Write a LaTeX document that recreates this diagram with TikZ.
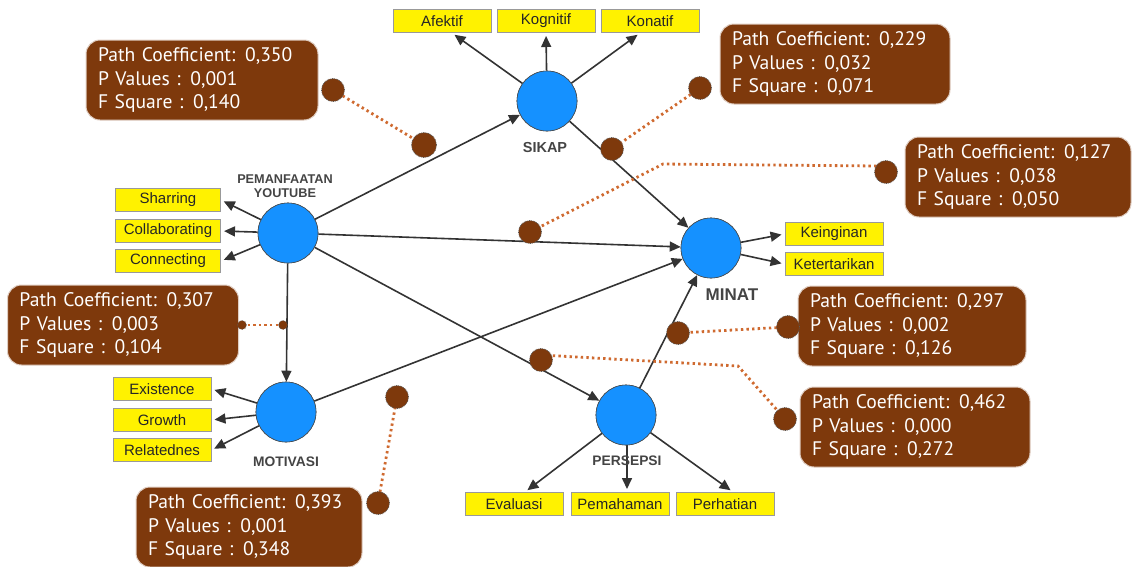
\documentclass[tikz,border=0pt]{standalone}
\usepackage{fontspec}
\setmainfont{Liberation Sans}
\newfontfamily\calfont{PT Sans}
\usetikzlibrary{arrows.meta}
\definecolor{nodeblue}{HTML}{1591FF}
\definecolor{boxyellow}{HTML}{FFF200}
\definecolor{calbrown}{HTML}{7E390C}
\definecolor{dotcol}{HTML}{CF6A30}
\definecolor{linegray}{HTML}{333333}
\definecolor{lblgray}{HTML}{444444}
\tikzset{
  lv/.style={circle, fill=nodeblue, draw=gray!60!black, line width=0.6pt, minimum size=60pt, inner sep=0pt},
  ind/.style={rectangle, fill=boxyellow, draw=gray!80, line width=1pt, minimum width=98pt, minimum height=23pt, inner sep=0pt, font=\fontsize{15}{15}\selectfont, text=black!85},
  lbl/.style={font=\bfseries\fontsize{13.8}{14}\selectfont, text=lblgray, align=center, inner sep=0pt},
  arr/.style={-{Triangle[length=11pt,width=10pt]}, line width=1.6pt, draw=linegray, shorten >=3pt},
  callout/.style={rectangle, rounded corners=14pt, fill=calbrown, draw=white!75!calbrown, line width=1pt, minimum height=80pt, text=white, align=left, inner xsep=12pt, inner ysep=0pt, font=\calfont\fontsize{19.6}{23.5}\selectfont},
  pdot/.style={circle, fill=calbrown, draw=black!65, densely dotted, line width=0.8pt, minimum size=23pt, inner sep=0pt},
  sdot/.style={circle, fill=calbrown, draw=black!65, densely dotted, line width=0.6pt, minimum size=9pt, inner sep=0pt},
  dline/.style={draw=dotcol, line width=2.8pt, dash pattern=on 2.4pt off 3.2pt},
}
\begin{document}
\begin{tikzpicture}[x=1pt,y=-1pt]
\useasboundingbox (0,0) rectangle (1132,566);
% latent variables
\node[lv] (sikap) at (547,101) {};
\node[lv] (pem) at (288,233) {};
\node[lv] (minat) at (711,248) {};
\node[lv] (mot) at (286,412) {};
\node[lv] (pers) at (626,415) {};
% indicators
\node[ind] (afektif) at (442,21) {Afektif};
\node[ind] (kognitif) at (546,21) {Kognitif};
\node[ind] (konatif) at (650,21) {Konatif};
\node[ind, minimum width=105pt] (sharring) at (168,200) {Sharring};
\node[ind, minimum width=105pt] (collab) at (168,231) {Collaborating};
\node[ind, minimum width=105pt] (connect) at (168,261) {Connecting};
\node[ind] (keinginan) at (834,234) {Keinginan};
\node[ind] (ketertarikan) at (834,264) {Ketertarikan};
\node[ind] (existence) at (162,389) {Existence};
\node[ind] (growth) at (162,420) {Growth};
\node[ind] (relatednes) at (162,450) {Relatednes};
\node[ind] (evaluasi) at (514,504) {Evaluasi};
\node[ind] (pemahaman) at (620,504) {Pemahaman};
\node[ind] (perhatian) at (725,504) {Perhatian};
% arrows
\draw[arr] (sikap) -- ([xshift=10pt]afektif.south);
\draw[arr] (sikap) -- (kognitif.south);
\draw[arr] (sikap) -- ([xshift=-10pt]konatif.south);
\draw[arr] (pem) -- (sharring.east);
\draw[arr] (pem) -- (collab.east);
\draw[arr] (pem) -- (connect.east);
\draw[arr] (mot) -- (existence.east);
\draw[arr] (mot) -- (growth.east);
\draw[arr] (mot) -- (relatednes.east);
\draw[arr] (pers) -- ([xshift=11pt]evaluasi.north);
\draw[arr] ([xshift=7pt]pers.south -| pemahaman.north) -- ([xshift=7pt]pemahaman.north);
\draw[arr] (pers) -- ([xshift=8pt]perhatian.north);
\draw[arr] (minat) -- (keinginan.west);
\draw[arr] (minat) -- (ketertarikan.west);
\draw[arr, shorten >=0pt] (pem) -- (sikap);
\draw[arr, shorten >=0pt] (pem) -- (minat);
\draw[arr, shorten >=0pt] (pem) -- (mot);
\draw[arr, shorten >=0pt] (pem) -- (pers);
\draw[arr, shorten >=0pt] (sikap) -- (minat);
\draw[arr, shorten >=0pt] (mot) -- (minat);
\draw[arr, shorten >=0pt] (pers) -- (minat);
% redraw circles on top
\node[lv] at (sikap) {};
\node[lv] at (pem) {};
\node[lv] at (minat) {};
\node[lv] at (mot) {};
\node[lv] at (pers) {};
% labels
\node[lbl, font=\bfseries\fontsize{12.7}{14}\selectfont] (lpem) at (285,186) {PEMANFAATAN\\YOUTUBE};
\node[lbl, font=\bfseries\fontsize{14.5}{14}\selectfont] (lsikap) at (545,148) {SIKAP};
\node[lbl, font=\bfseries\fontsize{17}{17}\selectfont] (lminat) at (732,295) {MINAT};
\node[lbl] (lmot) at (286,462) {MOTIVASI};
\node[lbl] (lpers) at (627,461) {PERSEPSI};
% callouts
\node[callout, minimum width=232pt, text width=208pt] (c1) at (202,80) {Path Coefficient: 0,350\\P Values : 0,001\\F Square : 0,140};
\node[callout, minimum width=230pt, text width=206pt] (c2) at (835,64) {Path Coefficient: 0,229\\P Values : 0,032\\F Square : 0,071};
\node[callout, minimum width=226pt, text width=202pt] (c3) at (1018,177) {Path Coefficient: 0,127\\P Values : 0,038\\F Square : 0,050};
\node[callout, minimum width=231pt, text width=207pt] (c4) at (123,325) {Path Coefficient: 0,307\\P Values : 0,003\\F Square : 0,104};
\node[callout, minimum width=228pt, text width=204pt] (c5) at (912,326) {Path Coefficient: 0,297\\P Values : 0,002\\F Square : 0,126};
\node[callout, minimum width=230pt, text width=206pt] (c6) at (915,427) {Path Coefficient: 0,462\\P Values : 0,000\\F Square : 0,272};
\node[callout, minimum width=226pt, text width=202pt] (c7) at (249,527) {Path Coefficient: 0,393\\P Values : 0,001\\F Square : 0,348};
% dotted leaders
\coordinate (d1a) at (333,90); \coordinate (d1b) at (424,145);
\coordinate (d2a) at (700,88); \coordinate (d2b) at (612,149);
\coordinate (d3a) at (886,172); \coordinate (d3b) at (530,232);
\coordinate (d3k) at (663,164); \coordinate (d3j) at (876,166);
\coordinate (d4a) at (242,325); \coordinate (d4b) at (283,325);
\coordinate (d5a) at (788,327); \coordinate (d5b) at (678,333);
\coordinate (d6a) at (785,419); \coordinate (d6b) at (541,360);
\coordinate (d6k) at (738,366);
\coordinate (d7a) at (378,503); \coordinate (d7b) at (397,397);
\draw[dline] (d1a) -- (d1b);
\draw[dline] (d2a) -- (d2b);
\draw[dline] (d3a) -- (d3j) -- (d3k) -- (d3b);
\draw[dline] (d4a) -- (d4b);
\draw[dline] (d5a) -- (d5b);
\draw[dline] (d6b) -- ([yshift=5pt]d6b) -- (d6k) -- (d6a);
\draw[dline] (d7a) -- (d7b);
\node[pdot] (p1a) at (d1a) {}; \node[pdot, minimum size=25pt] (p1b) at (d1b) {};
\node[pdot] (p2a) at (d2a) {}; \node[pdot] (p2b) at (d2b) {};
\node[pdot] (p3a) at (d3a) {}; \node[pdot] (p3b) at (d3b) {};
\node[sdot] (p4a) at (d4a) {}; \node[sdot] (p4b) at (d4b) {};
\node[pdot] (p5a) at (d5a) {}; \node[pdot] (p5b) at (d5b) {};
\node[pdot] (p6a) at (d6a) {}; \node[pdot] (p6b) at (d6b) {};
\node[pdot] (p7a) at (d7a) {}; \node[pdot] (p7b) at (d7b) {};
\end{tikzpicture}
\end{document}
